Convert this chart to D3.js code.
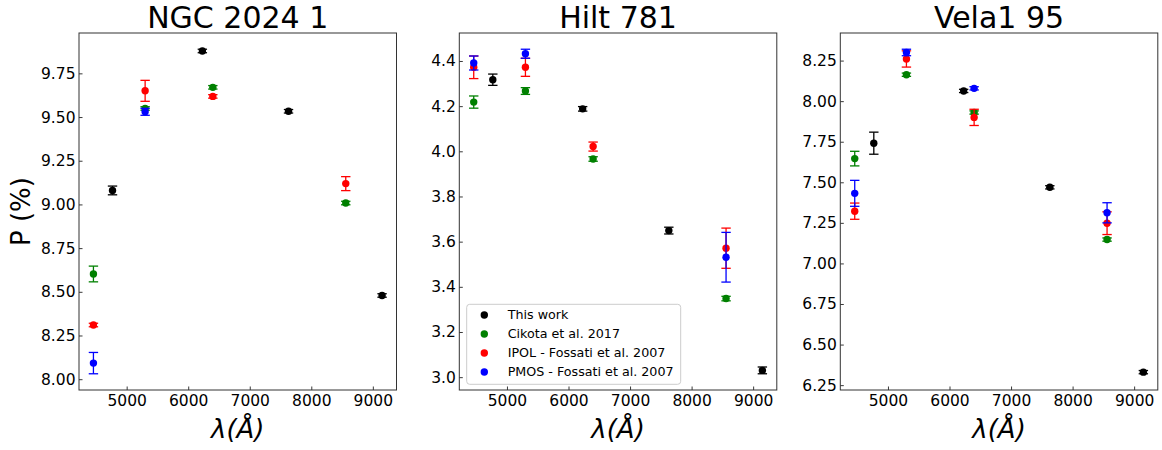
<!DOCTYPE html>
<html>
<head>
<meta charset="utf-8">
<script src="https://cdn.jsdelivr.net/npm/d3@7"></script>
<style>
  body { margin: 0; background: #fff; }
  svg { font-family: "DejaVu Sans", sans-serif; }
</style>
</head>
<body>
<div class="chart"></div>
<script>
// data
const panelTitles = ["NGC 2024 1", "Hilt 781", "Vela1 95"];
const seriesNames = ["This work", "Cikota et al. 2017", "IPOL - Fossati et al. 2007", "PMOS - Fossati et al. 2007"];
const seriesColors = ["#000000", "#008000", "#ff0000", "#0000ff"];

// wavelengths (Angstrom)
const lamThisWork = [4770, 6230, 7630, 9150];
const lamLiterature = [4460, 5300, 6400, 8560];

// P (%) and errors, one array per panel, null = no point
const ngcThis = [9.08, 9.878, 9.533, 8.479];
const ngcThisErr = [0.025, 0.01, 0.01, 0.01];
const ngcCikota = [8.602, 9.549, 9.67, 9.008];
const ngcCikotaErr = [0.045, 0.01, 0.01, 0.01];
const ngcIpol = [8.31, 9.65, 9.618, 9.119];
const ngcIpolErr = [0.01, 0.06, 0.01, 0.04];
const ngcPmos = [8.092, 9.53, null, null];
const ngcPmosErr = [0.061, 0.02, null, null];

const hiltThis = [4.317, 4.188, 3.649, 3.03];
const hiltThisErr = [0.025, 0.01, 0.015, 0.015];
const hiltCikota = [4.218, 4.267, 3.966, 3.348];
const hiltCikotaErr = [0.027, 0.015, 0.01, 0.01];
const hiltIpol = [4.372, 4.372, 4.021, 3.571];
const hiltIpolErr = [0.05, 0.04, 0.02, 0.089];
const hiltPmos = [4.391, 4.432, null, 3.531];
const hiltPmosErr = [0.031, 0.02, null, 0.11];

const velaThis = [7.741, 8.063, 7.469, 6.33];
const velaThisErr = [0.068, 0.01, 0.01, 0.01];
const velaCikota = [7.646, 8.163, 7.93, 7.147];
const velaCikotaErr = [0.045, 0.01, 0.01, 0.01];
const velaIpol = [7.322, 8.26, 7.9, 7.248];
const velaIpolErr = [0.05, 0.05, 0.05, 0.07];
const velaPmos = [7.432, 8.30, 8.079, 7.312];
const velaPmosErr = [0.08, 0.02, 0.01, 0.062];

const xTicks = [5000, 6000, 7000, 8000, 9000];
const yTicksNgc = [8.0, 8.25, 8.5, 8.75, 9.0, 9.25, 9.5, 9.75];
const yTicksHilt = [3.0, 3.2, 3.4, 3.6, 3.8, 4.0, 4.2, 4.4];
const yTicksVela = [6.25, 6.5, 6.75, 7.0, 7.25, 7.5, 7.75, 8.0, 8.25];

// build per-panel tables
let makeSeries = (vals, errs, lams) =>
  vals.map((v, i) => ({ lam: lams[i], p: v, err: errs[i] })).filter(d => d.p != null);

let panels = [
  { title: panelTitles[0], ticks: yTicksNgc, fmt: ".2f",
    series: [makeSeries(ngcThis, ngcThisErr, lamThisWork), makeSeries(ngcCikota, ngcCikotaErr, lamLiterature),
             makeSeries(ngcIpol, ngcIpolErr, lamLiterature), makeSeries(ngcPmos, ngcPmosErr, lamLiterature)] },
  { title: panelTitles[1], ticks: yTicksHilt, fmt: ".1f", legend: true,
    series: [makeSeries(hiltThis, hiltThisErr, lamThisWork), makeSeries(hiltCikota, hiltCikotaErr, lamLiterature),
             makeSeries(hiltIpol, hiltIpolErr, lamLiterature), makeSeries(hiltPmos, hiltPmosErr, lamLiterature)] },
  { title: panelTitles[2], ticks: yTicksVela, fmt: ".2f",
    series: [makeSeries(velaThis, velaThisErr, lamThisWork), makeSeries(velaCikota, velaCikotaErr, lamLiterature),
             makeSeries(velaIpol, velaIpolErr, lamLiterature), makeSeries(velaPmos, velaPmosErr, lamLiterature)] }
];

// layout
let width = 1162, height = 450;
let panelLefts = [79, 459.3, 840.3];
let panelWidth = 317.5;
let plotTop = 33, plotBottom = 390;
let fontTick = 15.5;

let svg = d3.select(".chart").append("svg")
  .attr("width", width)
  .attr("height", height);

// matplotlib style 5% margins
let padDomain = (lo, hi) => {
  let r = hi - lo;
  return [lo - 0.05 * r, hi + 0.05 * r];
};

let allLams = lamThisWork.concat(lamLiterature);
let xDomain = padDomain(d3.min(allLams), d3.max(allLams));

panels.forEach((panel, k) => {
  let left = panelLefts[k];
  let g = svg.append("g").attr("class", "panel");

  let flat = panel.series.flat();
  let yDomain = padDomain(d3.min(flat, d => d.p - d.err), d3.max(flat, d => d.p + d.err));

  let x = d3.scaleLinear().domain(xDomain).range([left, left + panelWidth]);
  let y = d3.scaleLinear().domain(yDomain).range([plotBottom, plotTop]);

  // axes, ticks inward
  let xAxis = g.append("g")
    .attr("transform", `translate(0,${plotBottom})`)
    .call(d3.axisBottom(x).tickValues(xTicks).tickFormat(d3.format("d")).tickSizeInner(-3.5).tickSizeOuter(0).tickPadding(5));
  let yAxis = g.append("g")
    .attr("transform", `translate(${left},0)`)
    .call(d3.axisLeft(y).tickValues(panel.ticks).tickFormat(d3.format(panel.fmt)).tickSizeInner(-3.5).tickSizeOuter(0).tickPadding(3.5));

  [xAxis, yAxis].forEach(a => {
    a.select(".domain").remove();
    a.selectAll("line").attr("stroke", "#222").attr("stroke-width", 0.9);
    a.selectAll("text").attr("font-size", fontTick).attr("fill", "#000")
      .attr("font-family", "DejaVu Sans");
  });

  // points with error bars (drawn in series order)
  panel.series.forEach((s, j) => {
    let color = seriesColors[j];
    let sg = g.append("g").attr("class", "series-" + j);
    let pts = sg.selectAll("g").data(s).enter().append("g");

    pts.append("line")
      .attr("x1", d => x(d.lam)).attr("x2", d => x(d.lam))
      .attr("y1", d => y(d.p - d.err)).attr("y2", d => y(d.p + d.err))
      .attr("stroke", color).attr("stroke-width", 1.3);
    pts.append("line")
      .attr("x1", d => x(d.lam) - 4.7).attr("x2", d => x(d.lam) + 4.7)
      .attr("y1", d => y(d.p - d.err)).attr("y2", d => y(d.p - d.err))
      .attr("stroke", color).attr("stroke-width", 1.3);
    pts.append("line")
      .attr("x1", d => x(d.lam) - 4.7).attr("x2", d => x(d.lam) + 4.7)
      .attr("y1", d => y(d.p + d.err)).attr("y2", d => y(d.p + d.err))
      .attr("stroke", color).attr("stroke-width", 1.3);
    pts.append("circle")
      .attr("cx", d => x(d.lam))
      .attr("cy", d => y(d.p))
      .attr("r", 3.7)
      .attr("fill", color);
  });

  // frame
  g.append("rect")
    .attr("x", left).attr("y", plotTop)
    .attr("width", panelWidth).attr("height", plotBottom - plotTop)
    .attr("fill", "none")
    .attr("stroke", "#333")
    .attr("stroke-width", 1);

  // title
  g.append("text")
    .attr("x", left + panelWidth / 2)
    .attr("y", 28)
    .attr("text-anchor", "middle")
    .attr("font-size", 30)
    .text(panel.title);

  // x label (mathtext style, all italic)
  g.append("text")
    .attr("x", left + panelWidth / 2)
    .attr("y", 438)
    .attr("text-anchor", "middle")
    .attr("font-size", 26)
    .attr("font-style", "italic")
    .text("λ(Å)");

  // legend
  if (panel.legend) {
    let lg = g.append("g").attr("transform", `translate(${left + 7.4},304.3)`);
    lg.append("rect")
      .attr("width", 214).attr("height", 80)
      .attr("rx", 3)
      .attr("fill", "#fff").attr("fill-opacity", 0.8)
      .attr("stroke", "#ccc").attr("stroke-width", 1);
    let rows = lg.selectAll("g.row").data(seriesNames).enter().append("g")
      .attr("class", "row")
      .attr("transform", (d, i) => `translate(0,${10.7 + i * 19})`);
    rows.append("circle")
      .attr("cx", 17.6).attr("cy", 0).attr("r", 3.7)
      .attr("fill", (d, i) => seriesColors[i]);
    rows.append("text")
      .attr("x", 41).attr("y", 0).attr("dy", "0.35em")
      .attr("font-size", 12.7)
      .text(d => d);
  }
});

// y label, first panel only
svg.append("text")
  .attr("transform", `translate(30,${(plotTop + plotBottom) / 2}) rotate(-90)`)
  .attr("text-anchor", "middle")
  .attr("font-size", 26)
  .text("P (%)");
</script>
</body>
</html>
